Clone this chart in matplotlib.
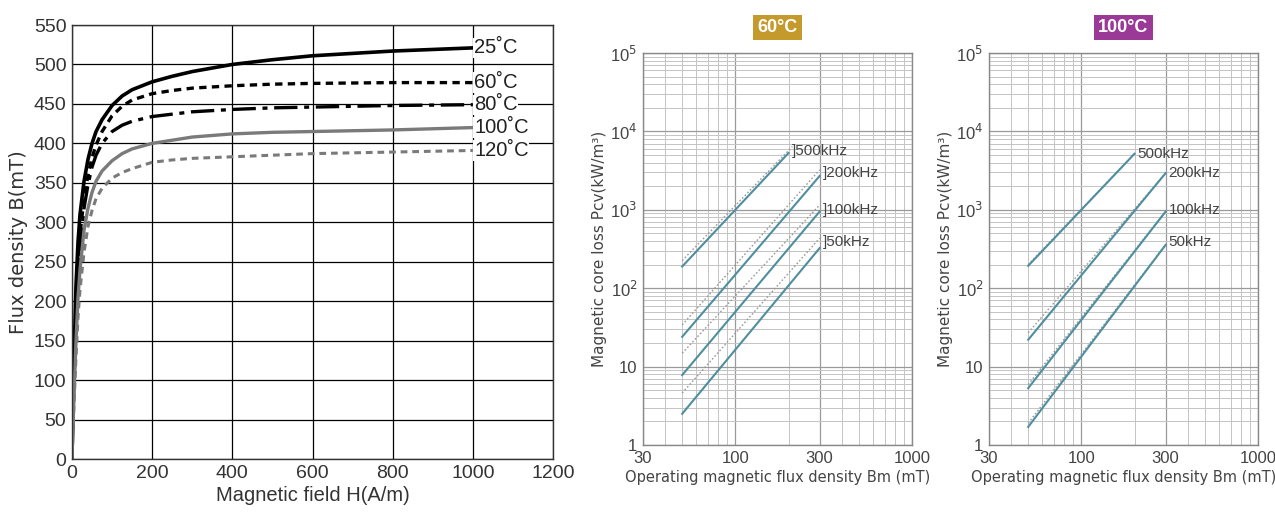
import numpy as np
import matplotlib
matplotlib.use("Agg")
import matplotlib.pyplot as plt
from matplotlib.ticker import FixedLocator, NullFormatter, LogLocator

plt.rcParams['font.family'] = ['Liberation Sans Narrow', 'Liberation Sans', 'DejaVu Sans']

# ---- B-H curves (left chart) ----
H = [0, 2, 5, 10, 15, 20, 30, 40, 50, 60, 75, 100, 125, 150, 200, 250, 300, 400, 500, 600, 800, 1000]
B_25 = [0, 60, 130, 220, 275, 310, 352, 380, 400, 415, 430, 448, 460, 468, 478, 485, 491, 500, 506, 511, 517, 521]
B_60 = [0, 50, 110, 195, 250, 285, 330, 360, 382, 398, 415, 435, 447, 455, 463, 467, 470, 473, 475, 476, 477, 477]
B_80 = [0, 45, 100, 180, 235, 270, 318, 348, 370, 385, 400, 415, 423, 428, 434, 437, 440, 443, 445, 446, 448, 449]
B_100 = [0, 35, 80, 150, 205, 240, 290, 318, 338, 352, 365, 378, 387, 393, 400, 404, 408, 412, 414, 415, 417, 420]
B_120 = [0, 30, 70, 130, 180, 215, 262, 295, 315, 330, 343, 356, 363, 368, 376, 379, 381, 383, 385, 387, 389, 391]
temp_labels = ['25˚C', '60˚C', '80˚C', '100˚C', '120˚C']
temp_label_y = [521, 477, 449, 420, 391]

# ---- core loss lines (log charts), end points [Bm50, Bm_end] ----
freqs = ['500kHz', '200kHz', '100kHz', '50kHz']
bm_start = [50, 50, 50, 50]
bm_end = [200, 300, 300, 300]
# 60 C
p60_solid = [[189, 5300], [24, 2700], [7.8, 950], [2.5, 325]]
p60_dot_bm = [[50, 210], [50, 300], [50, 300], [50, 300]]
p60_dot = [[225, 6400], [34, 3240], [14.8, 1150], [4.6, 435]]
p60_lab_y = [5560, 2940, 1000, 394]
# 100 C
p100_solid = [[193, 5190], [22, 2940], [5.3, 950], [1.7, 357]]
p100_dot_bm = [[50, 200], [50, 300], [50, 300], [50, 300]]
p100_dot = [[200, 5190], [27, 2940], [5.9, 960], [1.9, 360]]
p100_lab_y = [5190, 2940, 1000, 394]

fig = plt.figure(figsize=(12.75, 5.15), dpi=100)

# ---------------- left chart ----------------
ax = fig.add_axes([72 / 1275, 1 - 459 / 515, 481 / 1275, 434 / 515])
ax.plot(H, B_25, color='black', lw=2.6)
ax.plot(H, B_60, color='black', lw=2.4, ls=(0, (2.2, 1.6)))
ax.plot(H, B_80, color='black', lw=2.4, ls=(0, (7, 2, 1.5, 2)))
ax.plot(H, B_100, color='#7a7a7a', lw=2.4)
ax.plot(H, B_120, color='#7a7a7a', lw=2.2, ls=(0, (2.2, 1.6)))
for lab, yy in zip(temp_labels, temp_label_y):
    ax.text(1003, yy, lab, fontsize=14.5, va='center', ha='left', color='#222222',
            bbox=dict(facecolor='white', edgecolor='none', pad=0.5))
ax.set_xlim(0, 1200)
ax.set_ylim(0, 550)
ax.set_xticks(np.arange(0, 1201, 200))
ax.set_yticks(np.arange(0, 551, 50))
ax.grid(True, color='black', lw=0.9)
ax.set_axisbelow(True)
ax.tick_params(length=0, labelsize=14, colors='#333333', pad=4)
for s in ax.spines.values():
    s.set_color('#333333')
    s.set_linewidth(1.0)
ax.set_xlabel('Magnetic field H(A/m)', fontsize=14.5, color='#333333', labelpad=3)
ax.set_ylabel('Flux density B(mT)', fontsize=14, color='#333333', labelpad=4,
              family=['DejaVu Sans'])


def loss_axes(rect, title, title_color, solid, dot_bm, dot, lab_y, lab_prefix):
    a = fig.add_axes(rect)
    a.set_xscale('log')
    a.set_yscale('log')
    a.set_xlim(30, 1000)
    a.set_ylim(1, 1e5)
    for i, f in enumerate(freqs):
        a.plot(dot_bm[i], dot[i], color='#9a9a9a', lw=1.0, ls=(0, (1.2, 1.5)))
        a.plot([bm_start[i], bm_end[i]], solid[i], color='#4f8ea0', lw=1.5)
        xl = bm_end[i] * 1.04
        a.text(xl, lab_y[i], lab_prefix + f, fontsize=11, va='center', ha='left',
               color='#444444')
    a.xaxis.set_major_locator(FixedLocator([30, 100, 300, 1000]))
    a.xaxis.set_minor_locator(FixedLocator([40, 50, 60, 70, 80, 90, 200, 400, 500, 600, 700, 800, 900]))
    a.xaxis.set_minor_formatter(NullFormatter())
    a.set_xticklabels(['30', '100', '300', '1000'])
    a.yaxis.set_major_locator(FixedLocator([1, 10, 100, 1e3, 1e4, 1e5]))
    a.yaxis.set_minor_locator(LogLocator(base=10, subs=np.arange(2, 10), numticks=12))
    a.yaxis.set_minor_formatter(NullFormatter())
    a.set_yticklabels(['1', '10', '10$^2$', '10$^3$', '10$^4$', '10$^5$'])
    a.grid(True, which='major', color='#9a9a9a', lw=0.9)
    a.grid(True, which='minor', color='#c4c4c4', lw=0.7)
    a.set_axisbelow(True)
    a.tick_params(which='both', length=0, labelsize=12, colors='#444444', pad=4)
    for s in a.spines.values():
        s.set_color('#888888')
        s.set_linewidth(1.0)
    a.set_xlabel('Operating magnetic flux density Bm (mT)', fontsize=10.5,
                 color='#444444', labelpad=3, family=['DejaVu Sans'])
    a.set_ylabel('Magnetic core loss Pcv(kW/m³)', fontsize=11,
                 color='#444444', labelpad=2, family=['DejaVu Sans'])
    a.set_title(title, fontsize=13, color='white', fontweight='bold', pad=15,
                bbox=dict(facecolor=title_color, edgecolor='none', pad=3))
    return a


loss_axes([643 / 1275, 1 - 445 / 515, 269 / 1275, 392 / 515], '60°C', '#c49a2c',
          p60_solid, p60_dot_bm, p60_dot, p60_lab_y, ']')
loss_axes([989 / 1275, 1 - 445 / 515, 269 / 1275, 392 / 515], '100°C', '#9a3a96',
          p100_solid, p100_dot_bm, p100_dot, p100_lab_y, '')

fig.savefig('out.png', dpi=100)
